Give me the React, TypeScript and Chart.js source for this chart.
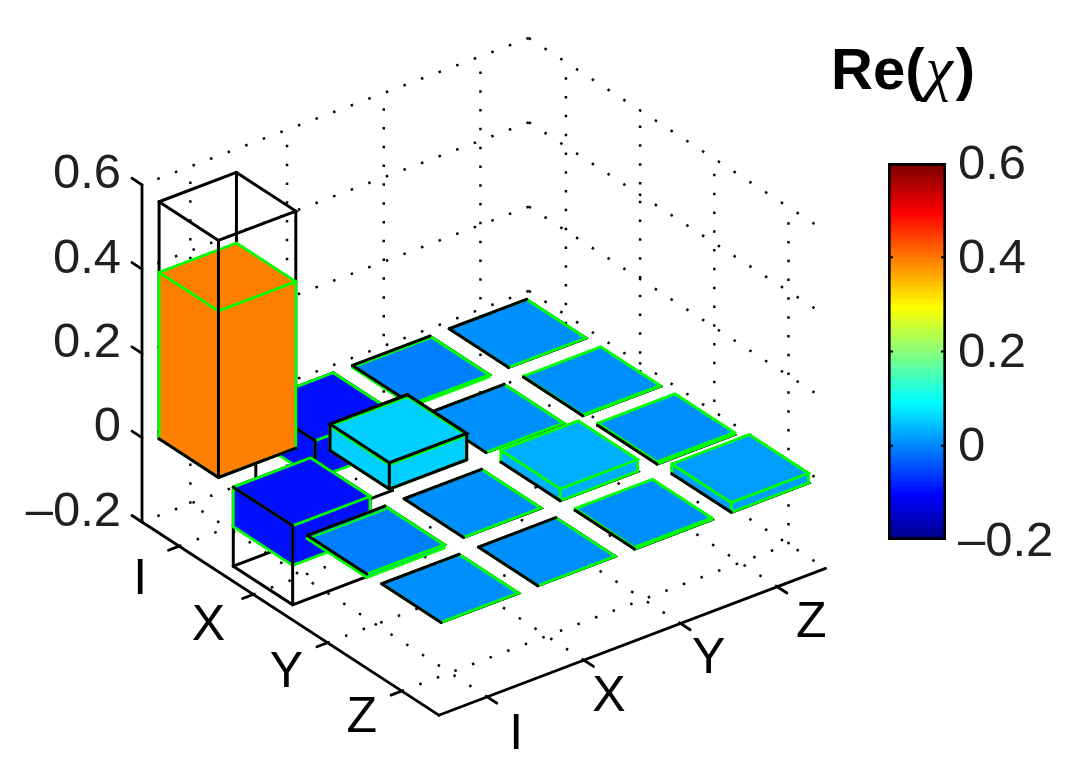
import React, { useEffect, useRef } from "react";
import { Chart, registerables } from "chart.js";

Chart.register(...registerables);

// ---------- data ----------
const rowLabels = ["I", "X", "Y", "Z"];
const colLabels = ["I", "X", "Y", "Z"];
const zTicks = [-0.2, 0, 0.2, 0.4, 0.6];
const zTickLabels = ["\u20130.2", "0", "0.2", "0.4", "0.6"];

// ideal process matrix (black wire boxes)
const idealI = [0.5625, -0.1875, 0, 0];
const idealX = [-0.1875, 0.0625, 0, 0];
const idealY = [0, 0, 0, 0];
const idealZ = [0, 0, 0, 0];

// measured process matrix (coloured bars, green edges)
const measuredI = [0.395, -0.09, -0.005, 0];
const measuredX = [-0.094, 0.058, 0, 0.002];
const measuredY = [-0.008, 0, 0.028, 0.005];
const measuredZ = [0, 0, 0.004, 0.023];

const ideal = [idealI, idealX, idealY, idealZ];
const measured = [measuredI, measuredX, measuredY, measuredZ];

const colorbarRange = [-0.2, 0.6];

// ---------- jet colormap (64 levels) ----------
function jetU(k: number) {
  if (k < 1 || k > 47) return 0;
  if (k <= 16) return k / 16;
  if (k <= 31) return 1;
  return (48 - k) / 16;
}
function jetLevel(i: number) {
  const r = Math.round(255 * jetU(i - 24));
  const g = Math.round(255 * jetU(i - 8));
  const b = Math.round(255 * jetU(i + 8));
  return `rgb(${r},${g},${b})`;
}
function jet(v: number) {
  const n = (v - colorbarRange[0]) / (colorbarRange[1] - colorbarRange[0]);
  return jetLevel(Math.min(64, Math.floor(n * 64) + 1));
}

// ---------- projection of the 3-D axes on the hidden x/y scales ----------
const O = { x: 142, y: 522 };
const VR = { x: 74.2, y: 48.3 };
const VC = { x: 96.7, y: -36.7 };
const ZS = 421.5;
function P(r: number, c: number, z: number) {
  return {
    x: O.x + r * VR.x + c * VC.x,
    y: O.y + r * VR.y + c * VC.y - (z + 0.2) * ZS,
  };
}

const BLACK = "#000000";
const GREEN = "#00ff00";
const FONT = '"Liberation Sans", Arial, sans-serif';
const TEXT = "#231f20";
const WIRE = 3;
const EDGE = 2.8;
const AXIS = 2.8;

function buildDatasets() {
  const ds: any[] = [];
  const base = {
    showLine: true,
    pointRadius: 0,
    pointHoverRadius: 0,
    tension: 0,
    fill: false,
  };
  const line = (pts: any[], color: string, width = WIRE, dash?: number[]) =>
    ds.push({
      ...base,
      data: pts,
      borderColor: color,
      borderWidth: width,
      borderDash: dash || [],
      borderCapStyle: dash ? "butt" : "round",
    });
  const poly = (pts: any[], color: string) =>
    ds.push({
      ...base,
      data: [...pts, pts[0]],
      borderColor: "rgba(0,0,0,0)",
      borderWidth: 0,
      backgroundColor: color,
      fill: "shape",
    });

  // dotted grid
  const DOT = [2.5, 16.3];
  const DW = 2.5;
  const top = zTicks[zTicks.length - 1];
  const bot = zTicks[0];
  for (const z of zTicks) {
    line([P(0, 4, z), P(0, 0, z)], BLACK, DW, DOT);
    line([P(0, 4, z), P(4, 4, z)], BLACK, DW, DOT);
  }
  colLabels.forEach((_, i) => {
    const t = i + 0.5;
    line([P(0, t, bot), P(0, t, top)], BLACK, DW, DOT);
    line([P(4, t, bot), P(0, t, bot)], BLACK, DW, DOT);
  });
  rowLabels.forEach((_, i) => {
    const t = i + 0.5;
    line([P(t, 4, bot), P(t, 4, top)], BLACK, DW, DOT);
    line([P(t, 0, bot), P(t, 4, bot)], BLACK, DW, DOT);
  });

  // solid axes with ticks
  line([P(0, 0, top), P(0, 0, bot)], BLACK, AXIS);
  line([P(0, 0, bot), P(4, 0, bot)], BLACK, AXIS);
  line([P(4, 0, bot), P(4, 4, bot)], BLACK, AXIS);
  for (const z of zTicks) line([P(0, 0, z), P(-0.135, 0, z)], BLACK, AXIS);
  rowLabels.forEach((_, i) => line([P(i + 0.5, 0, bot), P(i + 0.5, -0.11, bot)], BLACK, AXIS));
  colLabels.forEach((_, i) => line([P(4, i + 0.5, bot), P(4.13, i + 0.5, bot)], BLACK, AXIS));

  // bars, back to front
  for (let r = 0; r < 4; r++) {
    for (let c = 3; c >= 0; c--) {
      const w = ideal[r][c];
      const v = measured[r][c];
      const wTop = Math.max(w, 0);
      const wBot = Math.min(w, 0);
      const mTop = Math.max(v, 0);
      const mBot = Math.min(v, 0);
      const flat = w === 0;
      const close = !flat && Math.abs(w - v) < 0.01;
      const r0 = r + 0.1, r1 = r + 0.9, c0 = c + 0.1, c1 = c + 0.9;
      const L = (z: number) => P(r0, c0, z);
      const B = (z: number) => P(r0, c1, z);
      const R = (z: number) => P(r1, c1, z);
      const F = (z: number) => P(r1, c0, z);
      const leftBackAfter = flat && wTop >= mTop;

      // wire parts that lie behind the measured bar
      if (!flat) {
        line([B(wBot), B(wTop)], BLACK);
        line([L(wBot), B(wBot), R(wBot)], BLACK);
        if (!close) {
          line([L(wBot), L(wTop)], BLACK);
          line([R(wBot), R(wTop)], BLACK);
        }
      }
      line([B(wTop), R(wTop), F(wTop)], BLACK);
      if (!leftBackAfter) line([L(wTop), B(wTop)], BLACK);
      if (flat) line([R(wBot), F(wBot)], BLACK);

      // measured bar
      const col = jet(v);
      if (mTop !== mBot) {
        poly([L(mBot), F(mBot), F(mTop), L(mTop)], col);
        poly([F(mBot), R(mBot), R(mTop), F(mTop)], col);
      }
      poly([L(mTop), B(mTop), R(mTop), F(mTop)], col);
      line([L(mTop), B(mTop), R(mTop), F(mTop), L(mTop)], GREEN, EDGE);
      if (mTop !== mBot) {
        line([L(mTop), L(mBot), F(mBot), R(mBot), R(mTop)], GREEN, EDGE);
        line([F(mTop), F(mBot)], GREEN, EDGE);
      }
      if (v < 0 && v > -0.02) line([L(v), B(v)], GREEN, 2);

      // wire parts in front of the measured bar
      if (leftBackAfter) line([L(wTop), B(wTop)], BLACK);
      line([L(wTop), F(wTop)], BLACK);
      if (!flat) {
        line([F(wBot), F(wTop)], BLACK);
        line([L(wBot), F(wBot), R(wBot)], BLACK);
        if (close) {
          line([L(wBot), L(wTop)], BLACK);
          line([R(wBot), R(wTop)], BLACK);
          line([B(wTop), R(wTop), F(wTop)], BLACK);
          line([L(wTop), B(wTop)], BLACK);
        }
      }
    }
  }
  // the library paints the first dataset on top, so reverse
  return ds.reverse();
}

const rowLabelOffsets = [[-39, 34], [-45, 32], [-41, 30], [-40, 27]];
const colLabelOffsets = [[29, 38], [25, 37], [28, 36], [34, 36]];

const axisText = {
  id: "axisText",
  afterDraw(chart: any) {
    const ctx = chart.ctx;
    const xs = chart.scales.x;
    const ys = chart.scales.y;
    const put = (s: string, p: any, dx: number, dy: number) =>
      ctx.fillText(s, xs.getPixelForValue(p.x) + dx, ys.getPixelForValue(p.y) + dy);
    ctx.save();
    ctx.font = `49px ${FONT}`;
    ctx.textBaseline = "middle";
    ctx.fillStyle = TEXT;
    ctx.textAlign = "right";
    zTicks.forEach((z, i) => put(zTickLabels[i], P(0, 0, z), -21, -10));
    ctx.font = `50px ${FONT}`;
    ctx.fillStyle = BLACK;
    ctx.textAlign = "center";
    rowLabels.forEach((s, i) => put(s, P(i + 0.5, 0, -0.2), rowLabelOffsets[i][0], rowLabelOffsets[i][1]));
    colLabels.forEach((s, i) => put(s, P(4, i + 0.5, -0.2), colLabelOffsets[i][0], colLabelOffsets[i][1]));

    // title
    ctx.textAlign = "left";
    ctx.textBaseline = "alphabetic";
    let x = 831;
    const y = 88.5;
    const bold = `bold 58px ${FONT}`;
    const sym = 'italic 62px "Liberation Serif", serif';
    for (const [s, f] of [["Re(", bold], ["\u03c7", sym], [")", bold]]) {
      ctx.font = f;
      ctx.fillText(s, x, y);
      x += ctx.measureText(s).width + (s === "\u03c7" ? 3 : 1);
    }
    ctx.restore();
  },
};

const barTicks = {
  id: "barTicks",
  afterDatasetsDraw(chart: any) {
    const { ctx, chartArea, scales } = chart;
    ctx.save();
    ctx.strokeStyle = BLACK;
    ctx.lineWidth = 2;
    zTicks.forEach((value, i) => {
      const y = scales.y.getPixelForValue(value);
      if (value > colorbarRange[0] + 1e-6 && value < colorbarRange[1] - 1e-6) {
        ctx.beginPath();
        ctx.moveTo(chartArea.left, y);
        ctx.lineTo(chartArea.left + 5, y);
        ctx.moveTo(chartArea.right - 5, y);
        ctx.lineTo(chartArea.right, y);
        ctx.stroke();
      }
      ctx.font = `49px ${FONT}`;
      ctx.fillStyle = TEXT;
      ctx.textAlign = "left";
      ctx.textBaseline = "middle";
      ctx.fillText(zTickLabels[i], chartArea.right + 12, y + 2);
    });
    ctx.restore();
  },
};

export default function App() {
  const mainRef = useRef<HTMLCanvasElement>(null);
  const barRef = useRef<HTMLCanvasElement>(null);

  useEffect(() => {
    const main = new Chart(mainRef.current as any, {
      type: "scatter",
      data: { datasets: buildDatasets() },
      options: {
        animation: false,
        responsive: false,
        events: [],
        layout: { padding: 0 },
        plugins: { legend: { display: false }, tooltip: { enabled: false } },
        scales: {
          x: { type: "linear", display: false, min: 0, max: 1079 },
          y: { type: "linear", display: false, min: 0, max: 776, reverse: true },
        },
      } as any,
      plugins: [axisText],
    });

    const bar = new Chart(barRef.current as any, {
      type: "bar",
      data: {
        labels: [""],
        datasets: [
          {
            data: [colorbarRange] as any,
            barPercentage: 1,
            categoryPercentage: 1,
            borderColor: BLACK,
            borderWidth: 3,
            borderSkipped: false,
            backgroundColor: (ctx: any) => {
              const area = ctx.chart.chartArea;
              if (!area) return "#000";
              const g = ctx.chart.ctx.createLinearGradient(0, area.bottom, 0, area.top);
              for (let i = 0; i < 64; i++) {
                const col = jetLevel(i + 1);
                g.addColorStop((i + 0.3) / 64, col);
                g.addColorStop((i + 0.7) / 64, col);
              }
              return g;
            },
          },
        ],
      },
      options: {
        animation: false,
        responsive: false,
        events: [],
        layout: { padding: { top: 41, bottom: 42, left: 0, right: 0 } },
        plugins: { legend: { display: false }, tooltip: { enabled: false } },
        scales: {
          x: { display: false },
          y: {
            position: "right",
            min: colorbarRange[0],
            max: colorbarRange[1],
            afterFit: (s: any) => {
              s.width = 133;
            },
            afterBuildTicks: (s: any) => {
              s.ticks = zTicks.map((value) => ({ value }));
            },
            grid: { display: false, drawTicks: false },
            border: { display: false },
            ticks: { display: false },
          },
        },
      } as any,
      plugins: [barTicks],
    });

    return () => {
      main.destroy();
      bar.destroy();
    };
  }, []);

  return (
    <div style={{ position: "absolute", left: 0, top: 0, width: 1079, height: 776, overflow: "hidden", background: "#fff" }}>
      <canvas ref={mainRef} width={1079} height={776} style={{ position: "absolute", left: 0, top: 0, width: 1079, height: 776 }} />
      <canvas ref={barRef} width={191} height={460} style={{ position: "absolute", left: 888, top: 122, width: 191, height: 460 }} />
    </div>
  );
}
